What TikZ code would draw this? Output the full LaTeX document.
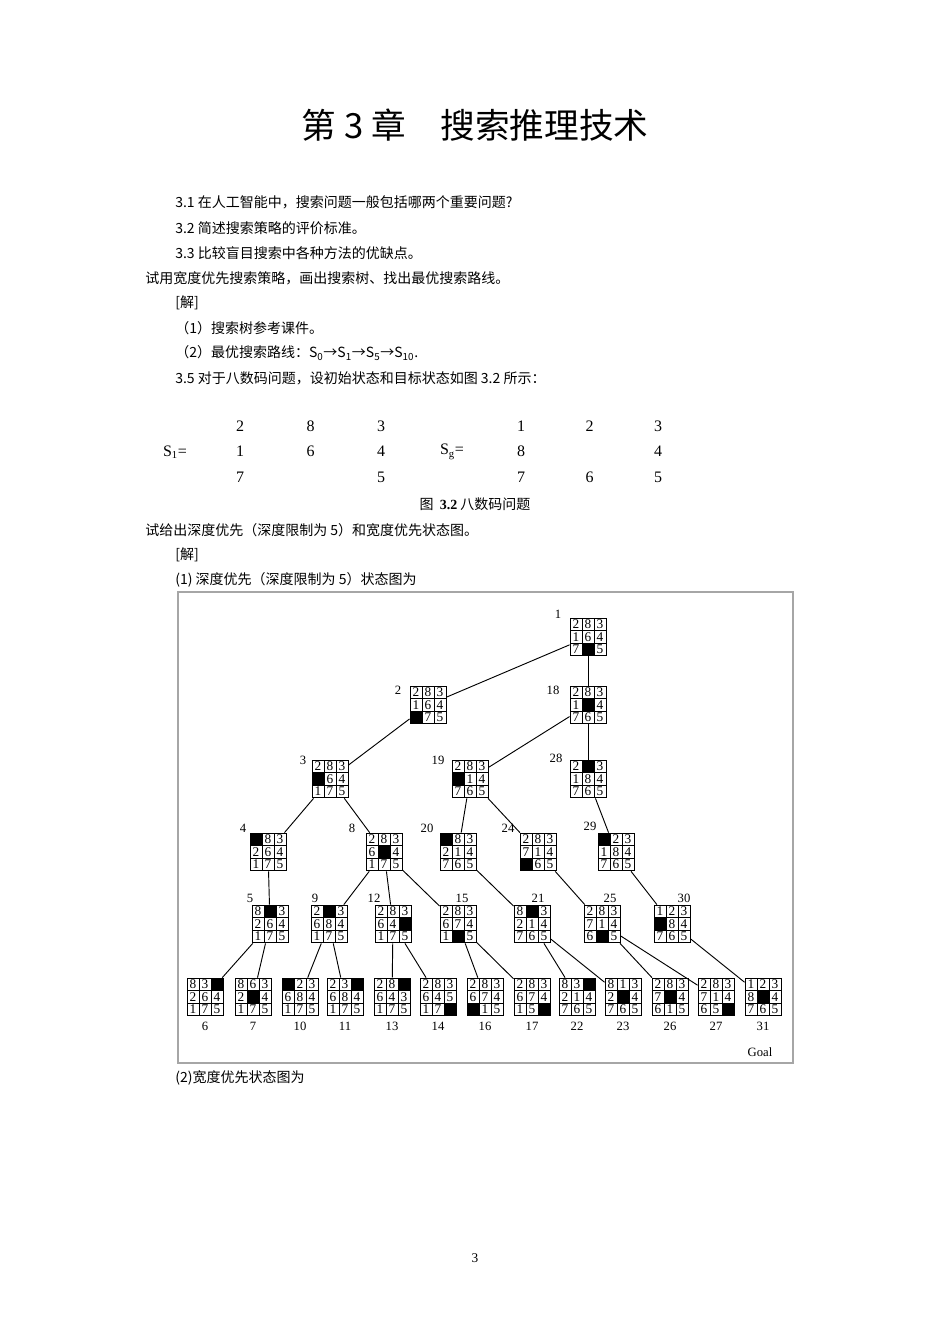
\documentclass[tikz,border=0pt]{standalone}
\usepackage{fontspec}
\setmainfont{Liberation Serif}
\newfontfamily\cjk{Noto Sans CJK SC}
\newcommand\pcell[3]{\ifnum#3=0 \fill (#1,#2) rectangle +(12,12.6);\else\node[dig] at (#1+6,#2+6.3) {#3};\fi\draw (#1,#2) rectangle +(12,12.6);}
\newcommand\prow[5]{\pcell{#1}{#2}{#3}\pcell{#1+12}{#2}{#4}\pcell{#1+24}{#2}{#5}}
\newcommand\puz[6]{\node[puzbox] (#1) at (#2+18,#3+19) {};
 \prow{#2}{#3}#4
 \prow{#2}{#3+12.6}#5
 \prow{#2}{#3+25.2}#6}
\begin{document}
\begin{tikzpicture}[x=0.75pt,y=-0.75pt,
 dig/.style={inner sep=0,font=\fontsize{10}{10}\selectfont},
 puzbox/.style={minimum width=27pt,minimum height=28.35pt,inner sep=0,draw=none},
 lab/.style={font=\fontsize{9.5}{10}\selectfont,inner sep=0},
 txt/.style={anchor=west,inner sep=0,font=\cjk\fontsize{10.5}{12}\selectfont},
 mat/.style={inner sep=0,font=\fontsize{12}{13}\selectfont},
 edge/.style={line width=0.7pt}]
\useasboundingbox (0,0) rectangle (950,1344);
\fill[white] (0,0) rectangle (950,1344);
\node[inner sep=0,font=\cjk\fontsize{26}{28}\selectfont] (title) at (475,125) {第 3 章\quad 搜索推理技术};
\node[txt] (l1) at (175,202) {3.1 在人工智能中，搜索问题一般包括哪两个重要问题?};
\node[txt] (l2) at (175,228) {3.2 简述搜索策略的评价标准。};
\node[txt] (l3) at (175,253) {3.3 比较盲目搜索中各种方法的优缺点。};
\node[txt] (l4) at (145,278) {试用宽度优先搜索策略，画出搜索树、找出最优搜索路线。};
\node[txt] (l5) at (175,303) {[解]};
\node[txt] (l6) at (175,328) {（1）搜索树参考课件。};
\node[txt] (l7) at (175,353) {（2）最优搜索路线：S\textsubscript{0}→S\textsubscript{1}→S\textsubscript{5}→S\textsubscript{10}.};
\node[txt] (l8) at (175,378) {3.5 对于八数码问题，设初始状态和目标状态如图 3.2 所示：};
\node[mat] (s1) at (175,452) {S\textsubscript{1}=};
\node[mat] (sg) at (452,452) {S\textsubscript{g}=};
\foreach \v [count=\i from 0] in {2,8,3,1,6,4,7,,5}{
 \pgfmathtruncatemacro\c{mod(\i,3)}\pgfmathtruncatemacro\r{div(\i,3)}
 \node[mat] (a\i) at (240+\c*70.5,426+\r*25.5) {\v};}
\foreach \v [count=\i from 0] in {1,2,3,8,,4,7,6,5}{
 \pgfmathtruncatemacro\c{mod(\i,3)}\pgfmathtruncatemacro\r{div(\i,3)}
 \node[mat] (b\i) at (521+\c*68.5,426+\r*25.5) {\v};}
\node[inner sep=0,font=\cjk\fontsize{10.5}{12}\selectfont] (cap) at (475,504) {图\ \ {\fontspec{Liberation Serif}\bfseries 3.2}\ 八数码问题};
\node[txt] (l9) at (145,530) {试给出深度优先（深度限制为 5）和宽度优先状态图。};
\node[txt] (l10) at (175,555) {[解]};
\node[txt] (l11) at (175,580) {(1) 深度优先（深度限制为 5）状态图为};
\node[txt] (l12) at (175,1078) {(2)宽度优先状态图为};
\node[inner sep=0,font=\fontsize{10}{11}\selectfont] (pg) at (475,1258) {3};
\draw[gray!70,line width=0.8pt] (178,592) rectangle (793,1063);
\begin{scope}[line width=0.7pt]
\puz{n1}{570}{618}{283}{164}{705}
\puz{n2}{410}{686}{283}{164}{075}
\puz{n18}{570}{686}{283}{104}{765}
\puz{n3}{312}{760}{283}{064}{175}
\puz{n19}{452}{760}{283}{014}{765}
\puz{n28}{570}{760}{203}{184}{765}
\puz{n4}{250}{833}{083}{264}{175}
\puz{n8}{366}{833}{283}{604}{175}
\puz{n20}{440}{833}{083}{214}{765}
\puz{n24}{520}{833}{283}{714}{065}
\puz{n29}{598}{833}{023}{184}{765}
\puz{n5}{252}{905}{803}{264}{175}
\puz{n9}{311}{905}{203}{684}{175}
\puz{n12}{375}{905}{283}{640}{175}
\puz{n15}{440}{905}{283}{674}{105}
\puz{n21}{514}{905}{803}{214}{765}
\puz{n25}{584}{905}{283}{714}{605}
\puz{n30}{654}{905}{123}{084}{765}
\puz{n6}{187}{978}{830}{264}{175}
\puz{n7}{235}{978}{863}{204}{175}
\puz{n10}{282}{978}{023}{684}{175}
\puz{n11}{327}{978}{230}{684}{175}
\puz{n13}{374}{978}{280}{643}{175}
\puz{n14}{420}{978}{283}{645}{170}
\puz{n16}{467}{978}{283}{674}{015}
\puz{n17}{514}{978}{283}{674}{150}
\puz{n22}{559}{978}{830}{214}{765}
\puz{n23}{605}{978}{813}{204}{765}
\puz{n26}{652}{978}{283}{704}{615}
\puz{n27}{698}{978}{283}{714}{650}
\puz{n31}{745}{978}{123}{804}{765}
\end{scope}
\foreach \n/\x/\y in {1/558/614,2/398/690,18/553/690,3/303/760,19/438/760,28/556/758,4/243/828,8/352/828,20/427/828,24/508/828,29/590/826,5/250/898,9/315/898,12/374/898,15/462/898,21/538/898,25/610/898,30/684/898}
 \node[lab] (t\n) at (\x,\y) {\n};
\foreach \n in {6,7,10,11,13,14,16,17,22,23,26,27,31}
 \node[lab,anchor=north,yshift=-4pt] (t\n) at (n\n.south) {\n};
\node[lab] (goal) at (760,1052) {Goal};
\foreach \p/\c in {1/2,1/18,2/3,18/19,18/28,3/4,3/8,19/20,19/24,28/29,4/5,8/9,8/12,8/15,20/21,24/25,29/30,5/6,5/7,9/10,9/11,12/13,12/14,15/16,15/17,21/22,21/23,25/26,25/27,30/31}
 \draw[edge] (n\p) -- (n\c);
\end{tikzpicture}
\end{document}
